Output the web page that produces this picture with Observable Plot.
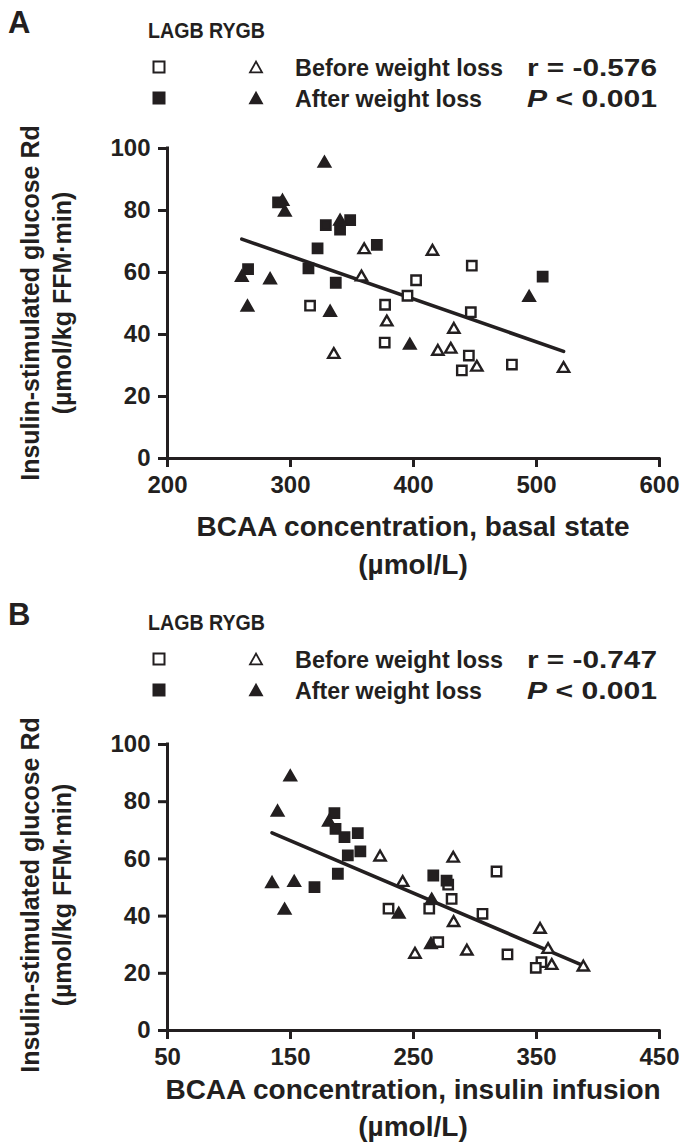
<!DOCTYPE html>
<html><head><meta charset="utf-8">
<script src="https://cdn.jsdelivr.net/npm/d3@7"></script>
<script src="https://cdn.jsdelivr.net/npm/@observablehq/plot@0.6"></script>
<style>
body{margin:0;background:#fff;}
#page{position:relative;width:683px;height:1143px;overflow:hidden;background:#fff;}
#page svg{position:absolute;left:0;}
</style></head><body><div id="page"></div>
<script>
const INK = "#231f20";
const FONT = "'Liberation Sans', Arial, Helvetica, sans-serif";

// ---------- Panel A data (BCAA basal state vs glucose Rd) ----------
const aLagbBeforeX = [315.9, 376.9, 447.4, 402.1, 395.1, 446.6, 376.6, 445, 439.3, 480];
const aLagbBeforeY = [49.3, 49.6, 62.2, 57.5, 52.5, 47.2, 37.4, 33.2, 28.4, 30.3];
const aLagbAfterX  = [265.5, 289.9, 328.7, 322, 314.6, 336.8, 340.3, 348.5, 370.2, 505];
const aLagbAfterY  = [61.1, 82.6, 75.3, 67.8, 61.3, 56.7, 73.8, 76.9, 68.9, 58.7];
const aRygbBeforeX = [359.9, 357.7, 378.3, 415.4, 335.2, 419.8, 430.3, 432.8, 451.5, 522];
const aRygbBeforeY = [67.3, 58.5, 44, 66.8, 33.5, 34.5, 35.2, 41.6, 29.4, 29];
const aRygbAfterX  = [260.4, 265, 283.4, 293.5, 295.4, 327.6, 340.3, 332.2, 494, 397];
const aRygbAfterY  = [58.4, 48.8, 57.6, 82.9, 79.4, 95.2, 76.5, 47.1, 51.9, 36.5];
const aXTicks = [200, 300, 400, 500, 600];
const aStats = ["r = -0.576", "< 0.001"];

// ---------- Panel B data (BCAA insulin infusion vs glucose Rd) ----------
const bLagbBeforeX = [229.7, 278.2, 317.5, 281, 262.8, 306.1, 270.1, 326.4, 354, 349.4];
const bLagbBeforeY = [42.6, 51, 55.6, 46, 42.6, 40.8, 30.9, 26.6, 23.9, 21.9];
const bLagbAfterX  = [169.5, 185.7, 186.6, 193.9, 204.7, 196.6, 206.8, 188.5, 266.1, 276.9];
const bLagbAfterY  = [50.1, 76, 70.5, 67.6, 69, 61.2, 62.6, 54.8, 54.2, 52.4];
const bRygbBeforeX = [222.8, 241.2, 282.3, 282.6, 251.2, 293.4, 352.9, 359.4, 362.4, 388.1];
const bRygbBeforeY = [60.6, 51.7, 60.2, 37.7, 26.6, 27.7, 35.3, 28.3, 22.7, 22.1];
const bRygbAfterX  = [149.8, 139.5, 135, 153, 145.2, 238, 181.2, 264.8, 264.2];
const bRygbAfterY  = [88.6, 76.3, 51.3, 51.7, 42, 40.6, 72.8, 45.5, 30];
const bXTicks = [50, 150, 250, 350, 450];
const bStats = ["r = -0.747", "< 0.001"];

const yTicks = [0, 20, 40, 60, 80, 100];
const legendHeader = "LAGB RYGB";
const legendRows = ["Before weight loss", "After weight loss"];
const yTitle = ["Insulin-stimulated glucose Rd", "(\u00b5mol/kg FFM\u00b7min)"];
const aXTitle = ["BCAA concentration, basal state", "(\u00b5mol/L)"];
const bXTitle = ["BCAA concentration, insulin infusion", "(\u00b5mol/L)"];

const zip = (xs, ys) => xs.map((x, i) => ({x, y: ys[i]}));

function panel({groups, xDomain, xTicks, top, height, marginTop, marginBottom}) {
  const all = groups.flatMap(g => g.rows);
  const svg = Plot.plot({
    width: 683, height,
    marginLeft: 167, marginRight: 24, marginTop, marginBottom,
    x: {domain: xDomain, label: null},
    y: {domain: [0, 100], label: null},
    style: {fontFamily: FONT, fontSize: "24px", fontWeight: "bold", color: INK, background: "transparent", overflow: "visible"},
    marks: [
      Plot.axisX({ticks: xTicks, tickSize: 9, tickPadding: 8, strokeWidth: 3, label: null, fill: INK, stroke: INK}),
      Plot.axisY({ticks: yTicks, tickSize: 9, tickPadding: 8, strokeWidth: 3, label: null, fill: INK, stroke: INK}),
      Plot.ruleY([0], {stroke: INK, strokeWidth: 3, strokeLinecap: "square"}),
      Plot.ruleX([xDomain[0]], {stroke: INK, strokeWidth: 3, strokeLinecap: "square"}),
      Plot.linearRegressionY(all, {x: "x", y: "y", stroke: INK, strokeWidth: 3.6, ci: 0}),
      ...groups.map(g => Plot.dot(g.rows, {
        x: "x", y: "y", symbol: g.symbol, r: g.symbol === "square" ? 5.3 : 4.2,
        fill: g.filled ? INK : "white", stroke: INK, strokeWidth: 2.4, strokeLinejoin: "miter"
      }))
    ]
  });
  svg.style.top = top + "px";
  return svg;
}

const page = document.getElementById("page");

page.appendChild(panel({
  groups: [
    {rows: zip(aLagbBeforeX, aLagbBeforeY), symbol: "square", filled: false},
    {rows: zip(aRygbBeforeX, aRygbBeforeY), symbol: "triangle", filled: false},
    {rows: zip(aLagbAfterX, aLagbAfterY), symbol: "square", filled: true},
    {rows: zip(aRygbAfterX, aRygbAfterY), symbol: "triangle", filled: true}
  ],
  xDomain: [200, 600], xTicks: aXTicks, top: 140, height: 370, marginTop: 8, marginBottom: 52
}));

page.appendChild(panel({
  groups: [
    {rows: zip(bLagbBeforeX, bLagbBeforeY), symbol: "square", filled: false},
    {rows: zip(bRygbBeforeX, bRygbBeforeY), symbol: "triangle", filled: false},
    {rows: zip(bLagbAfterX, bLagbAfterY), symbol: "square", filled: true},
    {rows: zip(bRygbAfterX, bRygbAfterY), symbol: "triangle", filled: true}
  ],
  xDomain: [50, 450], xTicks: bXTicks, top: 736, height: 330, marginTop: 8, marginBottom: 36
}));

// ---------- annotation layer: panel letters, legends, axis titles ----------
const NS = "http://www.w3.org/2000/svg";
const ann = document.createElementNS(NS, "svg");
ann.setAttribute("width", 683); ann.setAttribute("height", 1143);
ann.style.top = "0px";
ann.setAttribute("font-family", FONT);
ann.setAttribute("font-weight", "bold");
ann.setAttribute("fill", INK);
page.appendChild(ann);

function el(tag, attrs, text) {
  const e = document.createElementNS(NS, tag);
  for (const k in attrs) e.setAttribute(k, attrs[k]);
  if (text != null) e.textContent = text;
  ann.appendChild(e);
  return e;
}
function square(cx, cy, s, filled) {
  el("rect", {x: cx - s / 2, y: cy - s / 2, width: s, height: s, fill: filled ? INK : "white", stroke: INK, "stroke-width": 2});
}
function triangle(cx, cy, s, filled) {
  const h = s * 0.9;
  el("polygon", {points: `${cx},${cy - h / 2} ${cx - s / 2},${cy + h / 2} ${cx + s / 2},${cy + h / 2}`,
    fill: filled ? INK : "white", stroke: INK, "stroke-width": 1.8, "stroke-linejoin": "miter"});
}

function decorate(letter, dy, stats, xTitle, xTitleY, yTitleCY) {
  el("text", {x: 8, y: 33 + dy, "font-size": 31}, letter);
  el("text", {x: 148, y: 38 + dy, "font-size": 22, textLength: 117, lengthAdjust: "spacingAndGlyphs"}, legendHeader);
  square(159, 67 + dy, 11, false); triangle(256, 67 + dy, 12, false);
  square(159, 98 + dy, 11, true); triangle(256, 98 + dy, 12, true);
  el("text", {x: 295, y: 76 + dy, "font-size": 24, textLength: 208, lengthAdjust: "spacingAndGlyphs"}, legendRows[0]);
  el("text", {x: 295, y: 107 + dy, "font-size": 24, textLength: 187, lengthAdjust: "spacingAndGlyphs"}, legendRows[1]);
  el("text", {x: 527, y: 76 + dy, "font-size": 24, textLength: 130, lengthAdjust: "spacingAndGlyphs"}, stats[0]);
  const p = el("text", {x: 527, y: 107 + dy, "font-size": 24, textLength: 130, lengthAdjust: "spacingAndGlyphs"});
  const ts = document.createElementNS(NS, "tspan"); ts.setAttribute("font-style", "italic"); ts.textContent = "P"; p.appendChild(ts);
  const ts2 = document.createElementNS(NS, "tspan"); ts2.textContent = " " + stats[1]; p.appendChild(ts2);
  // x title
  el("text", {x: 413, y: xTitleY[0], "font-size": 28, "text-anchor": "middle"}, xTitle[0]);
  el("text", {x: 413, y: xTitleY[1], "font-size": 28, "text-anchor": "middle"}, xTitle[1]);
  // y title
  el("text", {transform: `translate(39,${yTitleCY}) rotate(-90)`, "font-size": 25, "text-anchor": "middle"}, yTitle[0]);
  el("text", {transform: `translate(71,${yTitleCY}) rotate(-90)`, "font-size": 25, "text-anchor": "middle"}, yTitle[1]);
}

decorate("A", 0, aStats, aXTitle, [536, 574], 303);
decorate("B", 592, bStats, bXTitle, [1099, 1136], 895);
</script></body></html>
